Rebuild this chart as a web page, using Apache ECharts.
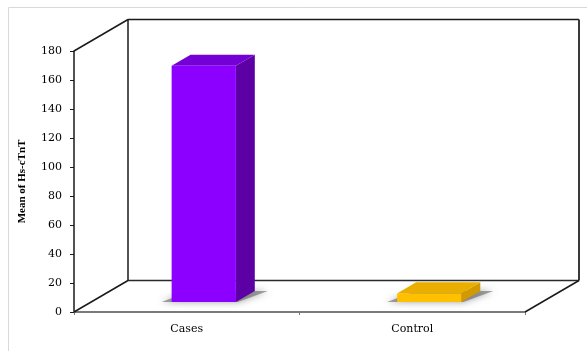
<!DOCTYPE html>
<html>
<head>
<meta charset="utf-8">
<script src="https://cdn.jsdelivr.net/npm/echarts@6/dist/echarts.min.js"></script>
<style>
  html, body { margin: 0; padding: 0; background: #fff; }
  #chart { width: 587px; height: 351px; }
</style>
</head>
<body>
<div id="chart"></div>
<script>
// Mean Hs-cTnT by group
const categories = ['Cases', 'Control'];
const meanValues = [163, 6];
const yTicks = { min: 0, max: 180, interval: 20 };

// Face colours per group: front, top, side
const faceColors = [
  { front: '#8c00ff', top: '#7400d6', side: '#5c00a6' },
  { front: '#ffc000', top: '#e9ae00', side: '#d29a00' }
];

// Oblique depth vector of the 3D box and the depth slot each bar occupies
const DEPTH_X = 54, DEPTH_Y = -31.5;
const BAR_DEPTH_FROM = 0.315, BAR_DEPTH_TO = 0.665;
const BAR_WIDTH_RATIO = 0.285;

const SERIF = '"Liberation Serif", "DejaVu Serif", serif';
const WIDE_SERIF = '"DejaVu Serif", "Liberation Serif", serif';

const chart = echarts.init(document.getElementById('chart'), null, { renderer: 'canvas' });

// Walls and floor edges of the 3D box, drawn from the grid rectangle
function renderFrame(params, api) {
  const cs = params.coordSys;
  const x0 = cs.x, y0 = cs.y, x1 = cs.x + cs.width, y1 = cs.y + cs.height;
  const bx0 = x0 + DEPTH_X, bx1 = x1 + DEPTH_X;
  const by0 = y0 + DEPTH_Y, by1 = y1 + DEPTH_Y;
  const dark = { stroke: '#1a1a1a', lineWidth: 1.5 };
  const line = (a, b, c, d, st) => ({ type: 'line', shape: { x1: a, y1: b, x2: c, y2: d }, style: st });
  return {
    type: 'group',
    children: [
      line(x0, y0, bx0, by0, dark),
      line(bx0, by0, bx1, by0, dark),
      line(bx0, by0, bx0, by1, dark),
      line(bx1, by0, bx1, by1, { stroke: '#3a3a3a', lineWidth: 2 }),
      line(bx0, by1, bx1, by1, { stroke: '#2a2a2a', lineWidth: 1.5 }),
      line(x0, y1, bx0, by1, dark),
      line(x1, y1, bx1, by1, dark)
    ]
  };
}

// One oblique 3D column per category
function renderBar(params, api) {
  const idx = api.value(0);
  const val = api.value(1);
  const base = api.coord([idx, 0]);
  const top = api.coord([idx, val]);
  const catW = api.size([1, 0])[0];
  const w = catW * BAR_WIDTH_RATIO;
  const ox = DEPTH_X * BAR_DEPTH_FROM, oy = DEPTH_Y * BAR_DEPTH_FROM;
  const dx = DEPTH_X * (BAR_DEPTH_TO - BAR_DEPTH_FROM);
  const dy = DEPTH_Y * (BAR_DEPTH_TO - BAR_DEPTH_FROM);
  const cx = base[0] + ox;
  const L = cx - w / 2, R = cx + w / 2;
  const yb = base[1] + oy, yt = top[1] + oy;
  const c = faceColors[idx];
  return {
    type: 'group',
    children: [
      {
        type: 'polygon',
        shape: { points: [[L - 10, yb], [R + 2, yb], [R + dx + 13, yb + dy], [L + dx, yb + dy]] },
        style: { fill: 'rgba(100,100,100,0.6)', shadowBlur: 7, shadowColor: 'rgba(80,80,80,0.9)' }
      },
      {
        type: 'polygon',
        shape: { points: [[R, yt], [R + dx, yt + dy], [R + dx, yb + dy], [R, yb]] },
        style: { fill: c.side }
      },
      {
        type: 'polygon',
        shape: { points: [[L, yt], [R, yt], [R + dx, yt + dy], [L + dx, yt + dy]] },
        style: { fill: c.top }
      },
      {
        type: 'rect',
        shape: { x: L, y: yt, width: w, height: yb - yt },
        style: { fill: c.front }
      }
    ]
  };
}

chart.setOption({
  backgroundColor: '#ffffff',
  animation: false,
  graphic: [{
    type: 'rect',
    left: 6, top: 5,
    shape: { width: 586, height: 344 },
    style: { fill: 'none', stroke: '#d9d9d9', lineWidth: 1 },
    silent: true,
    z: -10
  }],
  grid: { left: 74, right: 62, top: 51, bottom: 39, containLabel: false },
  xAxis: {
    type: 'category',
    data: categories,
    axisLine: { lineStyle: { color: '#7a7a7a', width: 2 } },
    axisTick: { show: true, length: 3, lineStyle: { color: '#7a7a7a' } },
    axisLabel: { color: '#000', fontFamily: WIDE_SERIF, fontSize: 11, margin: 12 },
    splitLine: { show: false }
  },
  yAxis: {
    type: 'value',
    min: yTicks.min, max: yTicks.max, interval: yTicks.interval,
    name: 'Mean of Hs-cTnT',
    nameLocation: 'middle',
    nameRotate: 90,
    nameGap: 46,
    nameTextStyle: { color: '#000', fontFamily: SERIF, fontSize: 11, fontWeight: 'bold' },
    axisLine: { show: true, lineStyle: { color: '#1a1a1a', width: 1.5 } },
    axisTick: { show: true, length: 4, lineStyle: { color: '#1a1a1a' } },
    axisLabel: { color: '#000', fontFamily: WIDE_SERIF, fontSize: 11, margin: 12 },
    splitLine: { show: false }
  },
  series: [
    {
      type: 'custom',
      renderItem: renderFrame,
      data: [[0, 0]],
      silent: true,
      z: 1
    },
    {
      type: 'custom',
      renderItem: renderBar,
      data: meanValues.map((v, i) => [i, v]),
      encode: { x: 0, y: 1 },
      z: 3
    }
  ]
});
</script>
</body>
</html>
